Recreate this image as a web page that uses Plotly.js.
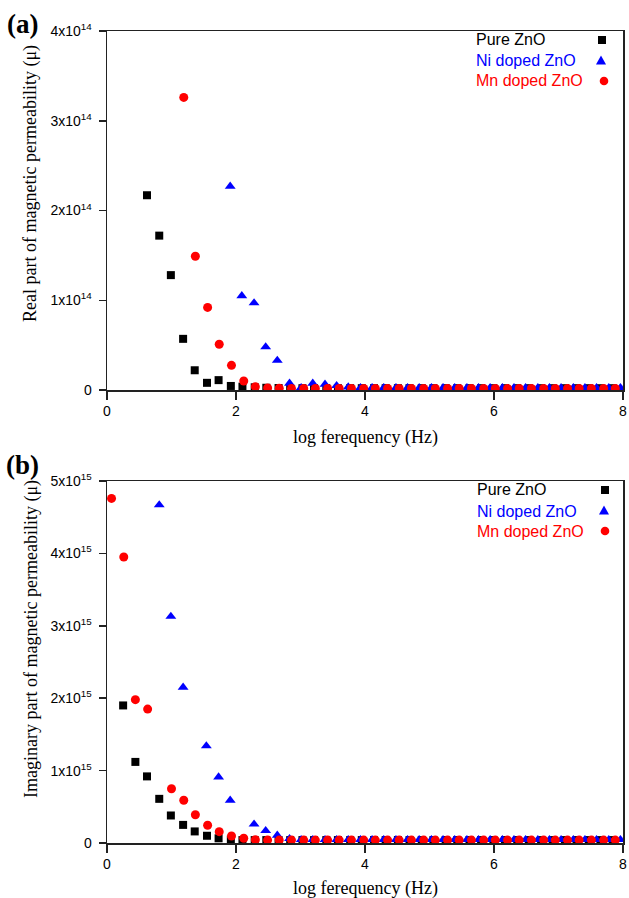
<!DOCTYPE html>
<html>
<head>
<meta charset="utf-8">
<script src="https://cdn.plot.ly/plotly-3.0.1.min.js"></script>
<style>html,body{margin:0;padding:0;background:#fff;}#chart{width:629px;height:898px;}</style>
</head>
<body>
<div id="chart"></div>
<script>
// ---- data (log frequency in Hz; real part in units of 1e14, imaginary part in units of 1e15) ----
var seriesNames = ['Pure ZnO', 'Ni doped ZnO', 'Mn doped ZnO'];

var xPure = [0.25,0.44,0.62,0.81,0.99,1.18,1.36,1.55,1.73,1.92,2.10,2.29,2.47,2.66,2.84,3.03,3.21,3.40,3.58,3.77,3.95,4.14,4.32,4.51,4.69,4.88,5.06,5.25,5.43,5.62,5.80,5.99,6.17,6.36,6.54,6.73,6.91,7.10,7.28,7.47,7.65,7.84];
var pureReal = [null,null,2.17,1.72,1.28,0.57,0.22,0.08,0.11,0.045,0.037,0.03,0.025,0.022,0.02,0.02,0.02,0.02,0.02,0.02,0.02,0.02,0.02,0.02,0.02,0.02,0.02,0.02,0.02,0.02,0.02,0.02,0.02,0.02,0.02,0.02,0.02,0.02,0.02,0.02,0.02,0.02];
var pureImag = [1.90,1.12,0.92,0.61,0.38,0.25,0.16,0.10,0.065,0.047,0.04,0.04,0.04,0.04,0.04,0.04,0.04,0.04,0.04,0.04,0.04,0.04,0.04,0.04,0.04,0.04,0.04,0.04,0.04,0.04,0.04,0.04,0.04,0.04,0.04,0.04,0.04,0.04,0.04,0.04,0.04,0.04];

var xNi = [0.08,0.26,0.44,0.63,0.81,0.99,1.18,1.36,1.54,1.73,1.91,2.09,2.28,2.46,2.64,2.83,3.01,3.19,3.38,3.56,3.74,3.93,4.11,4.29,4.48,4.66,4.84,5.03,5.21,5.39,5.58,5.76,5.94,6.13,6.31,6.49,6.68,6.86,7.04,7.23,7.41,7.59,7.78,7.96];
var niReal = [null,null,null,null,null,null,null,null,null,null,2.27,1.05,0.97,0.48,0.33,0.075,0.026,0.075,0.063,0.048,0.033,0.026,0.025,0.025,0.025,0.025,0.025,0.025,0.025,0.025,0.025,0.025,0.025,0.025,0.025,0.025,0.025,0.025,0.025,0.025,0.025,0.025,0.025,0.025];
var niImag = [null,null,null,null,4.67,3.13,2.15,null,1.34,0.91,0.59,null,0.26,0.17,0.107,0.06,0.045,0.045,0.045,0.045,0.045,0.045,0.045,0.045,0.045,0.045,0.045,0.045,0.045,0.045,0.045,0.045,0.045,0.045,0.045,0.045,0.045,0.045,0.045,0.045,0.045,0.045,0.045,0.045];

var xMn = [0.07,0.26,0.44,0.63,0.81,1.00,1.19,1.37,1.56,1.74,1.93,2.12,2.30,2.49,2.67,2.86,3.05,3.23,3.42,3.60,3.79,3.98,4.16,4.35,4.53,4.72,4.91,5.09,5.28,5.46,5.65,5.84,6.02,6.21,6.39,6.58,6.77,6.95,7.14,7.32,7.51,7.70,7.88];
var mnReal = [null,null,null,null,null,null,3.26,1.49,0.92,0.51,0.275,0.10,0.037,0.022,0.019,0.017,0.017,0.017,0.017,0.017,0.017,0.017,0.017,0.017,0.017,0.017,0.017,0.017,0.017,0.017,0.017,0.017,0.017,0.017,0.017,0.017,0.017,0.017,0.017,0.017,0.017,0.017,0.017];
var mnImag = [4.76,3.95,1.98,1.85,null,0.75,0.59,0.39,0.245,0.157,0.097,0.065,0.045,0.04,0.04,0.04,0.04,0.04,0.04,0.04,0.04,0.04,0.04,0.04,0.04,0.04,0.04,0.04,0.04,0.04,0.04,0.04,0.04,0.04,0.04,0.04,0.04,0.04,0.04,0.04,0.04,0.04,0.04];

var xTicks = [0, 2, 4, 6, 8];
var yTicksA = [0, 1, 2, 3, 4];
var yTextA = ['0', '1x10<sup>14</sup>', '2x10<sup>14</sup>', '3x10<sup>14</sup>', '4x10<sup>14</sup>'];
var yTicksB = [0, 1, 2, 3, 4, 5];
var yTextB = ['0', '1x10<sup>15</sup>', '2x10<sup>15</sup>', '3x10<sup>15</sup>', '4x10<sup>15</sup>', '5x10<sup>15</sup>'];

// ---- layout helpers ----
var W = 629, H = 898;
function PX(p) { return p / W; }
function PY(p) { return 1 - p / H; }

var colors = ['#000000', '#0000ff', '#ff0000'];
var symbols = ['square', 'triangle-up', 'circle'];
var sizes = [8, 9.5, 9];

function tr(x, y, i, xa, ya) {
  return {
    type: 'scatter', mode: 'markers', x: x, y: y, name: seriesNames[i],
    xaxis: xa, yaxis: ya, showlegend: false, cliponaxis: true,
    marker: { color: colors[i], symbol: symbols[i], size: sizes[i], line: { width: 0 } }
  };
}

var data = [
  tr(xPure, pureReal, 0, 'x', 'y'),
  tr(xNi, niReal, 1, 'x', 'y'),
  tr(xMn, mnReal, 2, 'x', 'y'),
  tr(xPure, pureImag, 0, 'x2', 'y2'),
  tr(xNi, niImag, 1, 'x2', 'y2'),
  tr(xMn, mnImag, 2, 'x2', 'y2')
];

var tickFont = { family: 'Liberation Sans, Arial, sans-serif', size: 14, color: '#000' };
function xax(anchor) {
  return {
    domain: [PX(107), PX(623)], anchor: anchor, range: [0, 8], tickvals: xTicks,
    ticktext: xTicks.map(String), ticks: 'outside', ticklen: 8, tickwidth: 1.5, tickcolor: '#222',
    showline: true, linecolor: '#222', linewidth: 1.5, mirror: true, showgrid: false, zeroline: false,
    tickfont: tickFont, fixedrange: true
  };
}
function yax(anchor, top, bottom, maxv, vals, txt) {
  return {
    domain: [PY(bottom), PY(top)], anchor: anchor, range: [0, maxv], tickvals: vals, ticktext: txt,
    ticks: 'outside', ticklen: 7, tickwidth: 1.5, tickcolor: '#222', ticklabelstandoff: 4,
    showline: true, linecolor: '#222', linewidth: 1.5, mirror: true, showgrid: false, zeroline: false,
    tickfont: tickFont, fixedrange: true
  };
}

var serif = 'Liberation Serif, Times New Roman, serif';
var sans = 'Liberation Sans, Arial, sans-serif';

function ann(text, px, py, opts) {
  var a = { text: text, x: PX(px), y: PY(py), xref: 'paper', yref: 'paper', showarrow: false,
            xanchor: 'center', yanchor: 'middle', borderpad: 0 };
  for (var k in opts) a[k] = opts[k];
  return a;
}

var annotations = [
  ann('<b>(a)</b>', 22, 24, { font: { family: serif, size: 27, color: '#000' } }),
  ann('<b>(b)</b>', 22, 465, { font: { family: serif, size: 27, color: '#000' } }),
  ann('Real part of magnetic permeability (\u03bc)', 30, 184, { textangle: -90, font: { family: serif, size: 18, color: '#000' } }),
  ann('Imaginary part of magnetic permeability (\u03bc)', 31, 639, { textangle: -90, font: { family: serif, size: 18, color: '#000' } }),
  ann('log ferequency (Hz)', 365, 437, { font: { family: serif, size: 18, color: '#000' } }),
  ann('log ferequency (Hz)', 365, 888, { font: { family: serif, size: 18, color: '#000' } }),
  ann(seriesNames[0], 475, 40, { xanchor: 'left', font: { family: sans, size: 16, color: colors[0] } }),
  ann(seriesNames[1], 475, 60, { xanchor: 'left', font: { family: sans, size: 16, color: colors[1] } }),
  ann(seriesNames[2], 475, 81, { xanchor: 'left', font: { family: sans, size: 16, color: colors[2] } }),
  ann(seriesNames[0], 476, 490, { xanchor: 'left', font: { family: sans, size: 16, color: colors[0] } }),
  ann(seriesNames[1], 476, 511, { xanchor: 'left', font: { family: sans, size: 16, color: colors[1] } }),
  ann(seriesNames[2], 476, 531, { xanchor: 'left', font: { family: sans, size: 16, color: colors[2] } })
];

function sq(cx, cy, s, c) {
  return { type: 'rect', xref: 'paper', yref: 'paper', x0: PX(cx - s / 2), x1: PX(cx + s / 2), y0: PY(cy + s / 2), y1: PY(cy - s / 2), fillcolor: c, line: { width: 0 } };
}
function tri(cx, cy, w, h, c) {
  var p = 'M' + PX(cx - w / 2) + ',' + PY(cy + h / 2) + ' L' + PX(cx + w / 2) + ',' + PY(cy + h / 2) + ' L' + PX(cx) + ',' + PY(cy - h / 2) + ' Z';
  return { type: 'path', xref: 'paper', yref: 'paper', path: p, fillcolor: c, line: { width: 0 } };
}
function circ(cx, cy, r, c) {
  return { type: 'circle', xref: 'paper', yref: 'paper', x0: PX(cx - r), x1: PX(cx + r), y0: PY(cy + r), y1: PY(cy - r), fillcolor: c, line: { width: 0 } };
}

var shapes = [
  sq(602, 40, 8, colors[0]), tri(601, 60, 10, 9, colors[1]), circ(604, 81, 4.3, colors[2]),
  sq(605, 490, 8, colors[0]), tri(604, 510, 10, 9, colors[1]), circ(605, 531, 4.3, colors[2])
];

var layout = {
  width: W, height: H, margin: { l: 0, r: 0, t: 0, b: 0 },
  paper_bgcolor: '#fff', plot_bgcolor: '#fff', showlegend: false,
  xaxis: xax('y'),
  yaxis: yax('x', 31, 390, 4, yTicksA, yTextA),
  xaxis2: xax('y2'),
  yaxis2: yax('x2', 481, 843, 5, yTicksB, yTextB),
  annotations: annotations,
  shapes: shapes
};

Plotly.newPlot('chart', data, layout, { displayModeBar: false, staticPlot: true });
</script>
</body>
</html>
